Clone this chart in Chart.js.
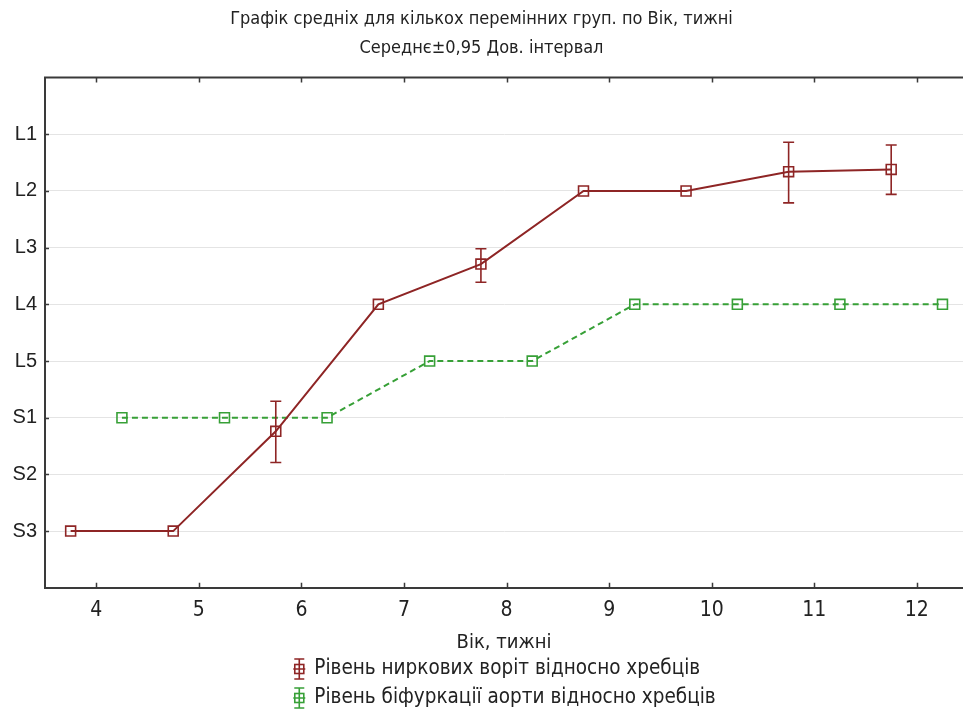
<!DOCTYPE html>
<html>
<head>
<meta charset="utf-8">
<script src="https://cdn.jsdelivr.net/npm/chart.js@4.4.1/dist/chart.umd.min.js"></script>
<style>
  html, body { margin: 0; padding: 0; background: #fff; overflow: hidden; }
</style>
</head>
<body>
<canvas id="chart" width="963" height="711"></canvas>
<script>
const titleLines = [
  "Графік средніх для кількох перемінних груп. по Вік, тижні",
  "Середнє±0,95 Дов. інтервал",
];
const xTitle = "Вік, тижні";
const levelLabels = ["L1", "L2", "L3", "L4", "L5", "S1", "S2", "S3"];
const weeks = [4, 5, 6, 7, 8, 9, 10, 11, 12];

const hilumLabel = "Рівень ниркових воріт відносно хребців";
const hilumAge = [3.75, 4.75, 5.75, 6.75, 7.75, 8.75, 9.75, 10.75, 11.75];
const hilumMean = [8, 8, 6.24, 4, 3.29, 2, 2, 1.66, 1.62];
const hilumLow = [8, 8, 5.71, 4, 3.02, 2, 2, 1.14, 1.19];
const hilumHigh = [8, 8, 6.79, 4, 3.61, 2, 2, 2.21, 2.06];

const bifLabel = "Рівень біфуркації аорти відносно хребців";
const bifAge = [4.25, 5.25, 6.25, 7.25, 8.25, 9.25, 10.25, 11.25, 12.25];
const bifMean = [6, 6, 6, 5, 5, 4, 4, 4, 4];
const bifLow = [6, 6, 6, 5, 5, 4, 4, 4, 4];
const bifHigh = [6, 6, 6, 5, 5, 4, 4, 4, 4];

const RED = "#8e2525";
const GREEN = "#37a037";
const AXIS = "#3a3a3a";
const NARROW = "'Liberation Sans Narrow', 'Arial Narrow', 'DejaVu Sans Condensed', sans-serif";
const SANS = "'Liberation Sans', Arial, sans-serif";

function toPoints(xs, ys) {
  return xs.map((x, i) => ({ x: x, y: ys[i] }));
}

// error bars from errLow / errHigh on each dataset
const errorBars = {
  id: "errorBars",
  afterDatasetsDraw(chart) {
    const ctx = chart.ctx;
    const xs = chart.scales.x;
    const ys = chart.scales.y;
    chart.data.datasets.forEach((ds) => {
      if (!ds.errLow) return;
      ctx.save();
      ctx.strokeStyle = ds.borderColor;
      ctx.lineWidth = 1.6;
      ctx.setLineDash([]);
      ds.data.forEach((p, i) => {
        const lo = ds.errLow[i];
        const hi = ds.errHigh[i];
        if (lo === hi) return;
        const px = xs.getPixelForValue(p.x);
        const y1 = ys.getPixelForValue(lo);
        const y2 = ys.getPixelForValue(hi);
        ctx.beginPath();
        ctx.moveTo(px, y1);
        ctx.lineTo(px, y2);
        ctx.moveTo(px - 5.5, y1);
        ctx.lineTo(px + 5.5, y1);
        ctx.moveTo(px - 5.5, y2);
        ctx.lineTo(px + 5.5, y2);
        ctx.stroke();
      });
      ctx.restore();
    });
  },
};

// top frame line and inward tick marks
const frame = {
  id: "frame",
  afterDraw(chart) {
    const ctx = chart.ctx;
    const a = chart.chartArea;
    const xs = chart.scales.x;
    const ys = chart.scales.y;
    ctx.save();
    ctx.strokeStyle = AXIS;
    ctx.lineWidth = 2;
    ctx.beginPath();
    ctx.moveTo(a.left - 1, a.top);
    ctx.lineTo(a.right, a.top);
    ctx.stroke();
    ctx.lineWidth = 1.5;
    ctx.beginPath();
    xs.ticks.forEach((t) => {
      const px = Math.round(xs.getPixelForValue(t.value)) + 0.5;
      ctx.moveTo(px, a.bottom);
      ctx.lineTo(px, a.bottom - 5);
      ctx.moveTo(px, a.top);
      ctx.lineTo(px, a.top + 5);
    });
    ys.ticks.forEach((t) => {
      if (t.value < 1 || t.value > levelLabels.length) return;
      const py = Math.round(ys.getPixelForValue(t.value)) + 0.5;
      ctx.moveTo(a.left, py);
      ctx.lineTo(a.left + 4, py);
    });
    ctx.stroke();
    ctx.restore();
  },
};

// two-row legend with error-bar symbols
const stackedLegend = {
  id: "stackedLegend",
  afterDraw(chart) {
    const ctx = chart.ctx;
    const a = chart.chartArea;
    const items = chart.data.datasets;
    ctx.save();
    ctx.font = "20.5px " + NARROW;
    const textW = Math.max(...items.map((d) => ctx.measureText(d.label).width));
    const blockW = 22 + textW;
    const left = (a.left + a.right) / 2 - blockW / 2;
    items.forEach((d, i) => {
      const cy = chart.height - 42 + i * 29;
      const ix = left + 7;
      ctx.strokeStyle = d.borderColor;
      ctx.lineWidth = 1.6;
      ctx.setLineDash([]);
      ctx.beginPath();
      ctx.moveTo(ix, cy - 10);
      ctx.lineTo(ix, cy + 10);
      ctx.moveTo(ix - 5, cy - 10);
      ctx.lineTo(ix + 5, cy - 10);
      ctx.moveTo(ix - 5, cy + 10);
      ctx.lineTo(ix + 5, cy + 10);
      ctx.moveTo(ix - 6, cy);
      ctx.lineTo(ix + 6, cy);
      ctx.stroke();
      ctx.strokeRect(ix - 4.5, cy - 4.5, 9, 9);
      ctx.fillStyle = "#222";
      ctx.textBaseline = "middle";
      ctx.textAlign = "left";
      ctx.fillText(d.label, left + 22, cy);
    });
    ctx.restore();
  },
};

new Chart(document.getElementById("chart"), {
  type: "line",
  data: {
    datasets: [
      {
        label: hilumLabel,
        data: toPoints(hilumAge, hilumMean),
        errLow: hilumLow,
        errHigh: hilumHigh,
        borderColor: RED,
        borderWidth: 2,
        pointStyle: "rect",
        pointRadius: 7,
        pointBorderWidth: 1.6,
        pointBorderColor: RED,
        pointBackgroundColor: "rgba(0,0,0,0)",
        tension: 0,
      },
      {
        label: bifLabel,
        data: toPoints(bifAge, bifMean),
        errLow: bifLow,
        errHigh: bifHigh,
        borderColor: GREEN,
        borderWidth: 2,
        borderDash: [6, 4],
        pointStyle: "rect",
        pointRadius: 7,
        pointBorderWidth: 1.6,
        pointBorderColor: GREEN,
        pointBackgroundColor: "rgba(0,0,0,0)",
        tension: 0,
      },
    ],
  },
  options: {
    responsive: false,
    animation: false,
    devicePixelRatio: 1,
    layout: { autoPadding: false, padding: { left: 0, right: 0, top: 0, bottom: 58 } },
    plugins: {
      legend: { display: false },
      tooltip: { enabled: false },
      title: {
        display: true,
        text: titleLines,
        color: "#222",
        font: { family: NARROW, size: 18, weight: "normal", lineHeight: 1.6 },
        padding: { top: 5, bottom: 15 },
      },
    },
    scales: {
      x: {
        type: "linear",
        min: 3.5,
        max: 12.45,
        afterBuildTicks: (scale) => {
          scale.ticks = weeks.map((v) => ({ value: v }));
        },
        afterFit: (scale) => {
          scale.paddingLeft = 0;
          scale.paddingRight = 0;
        },
        grid: { display: false, drawTicks: false },
        border: { display: true, color: AXIS, width: 2 },
        ticks: {
          color: "#222",
          font: { family: NARROW, size: 21 },
          padding: 10,
          autoSkip: false,
          maxRotation: 0,
        },
        title: {
          display: true,
          text: xTitle,
          color: "#222",
          font: { family: NARROW, size: 20, lineHeight: 1.0 },
          padding: { top: 0, bottom: 0 },
        },
      },
      y: {
        type: "linear",
        reverse: true,
        min: 0,
        max: levelLabels.length + 1,
        afterFit: (scale) => {
          scale.width = 45;
        },
        ticks: {
          stepSize: 1,
          autoSkip: false,
          color: "#222",
          font: { family: SANS, size: 20 },
          padding: 8,
          callback: (v) => levelLabels[v - 1] || "",
        },
        grid: {
          drawTicks: false,
          color: (c) =>
            c.tick && c.tick.value >= 1 && c.tick.value <= levelLabels.length
              ? "#e4e4e4"
              : "rgba(0,0,0,0)",
          lineWidth: 1,
        },
        border: { display: true, color: AXIS, width: 2 },
      },
    },
  },
  plugins: [errorBars, frame, stackedLegend],
});
</script>
</body>
</html>
